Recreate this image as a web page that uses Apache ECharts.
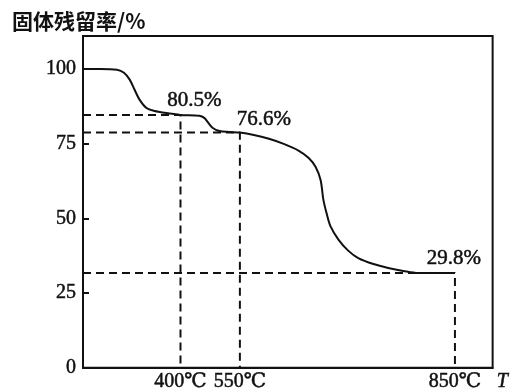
<!DOCTYPE html>
<html>
<head>
<meta charset="utf-8">
<script src="https://cdn.jsdelivr.net/npm/echarts@6/dist/echarts.min.js"></script>
<style>
  html, body { margin: 0; padding: 0; background: #fff; }
  #chart { width: 511px; height: 392px; }
</style>
</head>
<body>
<div id="chart"></div>
<script>
// x is the position along the drawn T axis (0..100, axis is not to scale in the original)
var curveX = [0, 4.1, 8.3, 10.0, 11.4, 12.6, 13.8, 15.5, 17.5, 19.9, 23.8, 28.4, 29.6, 30.6, 31.6, 33.3, 35.7, 38.3,
              41.7, 45.4, 49.0, 52.7, 55.1, 56.8, 58.0, 58.7, 59.5, 60.4, 62.4, 64.8, 67.2, 70.9, 74.5, 78.2, 81.8, 90.8];
var curveY = [100, 100, 99.7, 98.7, 96.4, 93.0, 89.7, 86.9, 85.9, 85.3, 84.6, 84.3, 83.6, 81.9, 80.3, 79.2, 78.9, 78.7,
              77.9, 76.6, 74.9, 72.6, 70.2, 67.2, 62.8, 56.1, 51.5, 47.4, 42.8, 39.1, 36.7, 34.7, 33.4, 32.4, 31.7, 31.7];
var tempPos = [23.8, 38.3, 90.8];            // where the 400/550/850 marks sit on the axis
var tempLabels = ['400℃', '550℃', '850℃'];
var stepLevels = [84.6, 78.7, 31.7];        // height of the dashed guide lines
var stepLabels = ['80.5%', '76.6%', '29.8%'];
var yTicks = [0, 25, 50, 75, 100];

var ink = '#111';
var serif = '"Liberation Serif", "DejaVu Serif", serif';
var textBold = { textBorderColor: ink, textBorderWidth: 0.5 };

var curve = curveX.map(function (x, i) { return [x, curveY[i]]; });

// dashed guides: horizontal from the y axis, then down to the x axis
var guideSeries = tempPos.map(function (x, i) {
    return {
        type: 'line',
        data: [[0, stepLevels[i]], [x, stepLevels[i]], [x, 0]],
        symbol: 'none',
        silent: true,
        lineStyle: { color: ink, width: 2, type: [8, 5] },
        z: 2
    };
});

var labelOffsets = [[14, -14], [24, -13], [-1, -15]];

var chart = echarts.init(document.getElementById('chart'));
var option = {
    backgroundColor: '#fff',
    animation: false,
    grid: { left: 83, right: 16, top: 36, bottom: 24, show: true, borderColor: ink, borderWidth: 2 },
    graphic: [{
        type: 'text', left: 12, top: 11,
        style: { text: '固体残留率/%', fill: ink, font: 'bold 21px "Noto Sans CJK SC"' }
    }],
    xAxis: {
        type: 'value', min: 0, max: 100,
        name: 'T', nameLocation: 'end', nameGap: 4,
        nameTextStyle: Object.assign({ color: ink, fontFamily: serif, fontStyle: 'italic', fontSize: 20, verticalAlign: 'top', padding: [4, 0, 0, 0] }, textBold),
        axisLine: { lineStyle: { color: ink, width: 2 } },
        axisTick: { show: false },
        splitLine: { show: false },
        axisLabel: Object.assign({
            customValues: tempPos,
            margin: 4,
            color: ink, fontFamily: serif, fontSize: 20,
            formatter: function (v) {
                var best = 0;
                for (var i = 1; i < tempPos.length; i++) {
                    if (Math.abs(tempPos[i] - v) < Math.abs(tempPos[best] - v)) best = i;
                }
                return tempLabels[best];
            }
        }, textBold)
    },
    yAxis: {
        type: 'value', min: 0, max: 111,
        axisLine: { show: true, lineStyle: { color: ink, width: 2 } },
        axisTick: { show: true, inside: true, length: 6, customValues: yTicks, lineStyle: { color: ink, width: 2 } },
        splitLine: { show: false },
        axisLabel: Object.assign({ customValues: yTicks, margin: 7, color: ink, fontFamily: serif, fontSize: 20 }, textBold)
    },
    series: guideSeries.concat([
        {
            type: 'line',
            data: curve,
            smooth: 0.3,
            symbol: 'none',
            lineStyle: { color: ink, width: 2 },
            z: 3
        },
        {
            type: 'scatter',
            symbolSize: 0,
            itemStyle: { color: ink, opacity: 1 },
            silent: true,
            data: tempPos.map(function (x, i) {
                return {
                    value: [x, stepLevels[i]],
                    label: { offset: labelOffsets[i] }
                };
            }),
            label: Object.assign({
                show: true, position: 'inside',
                color: ink, fontFamily: serif, fontSize: 21,
                formatter: function (p) { return stepLabels[p.dataIndex]; }
            }, textBold),
            z: 4
        }
    ])
};
chart.setOption(option);
</script>
</body>
</html>
